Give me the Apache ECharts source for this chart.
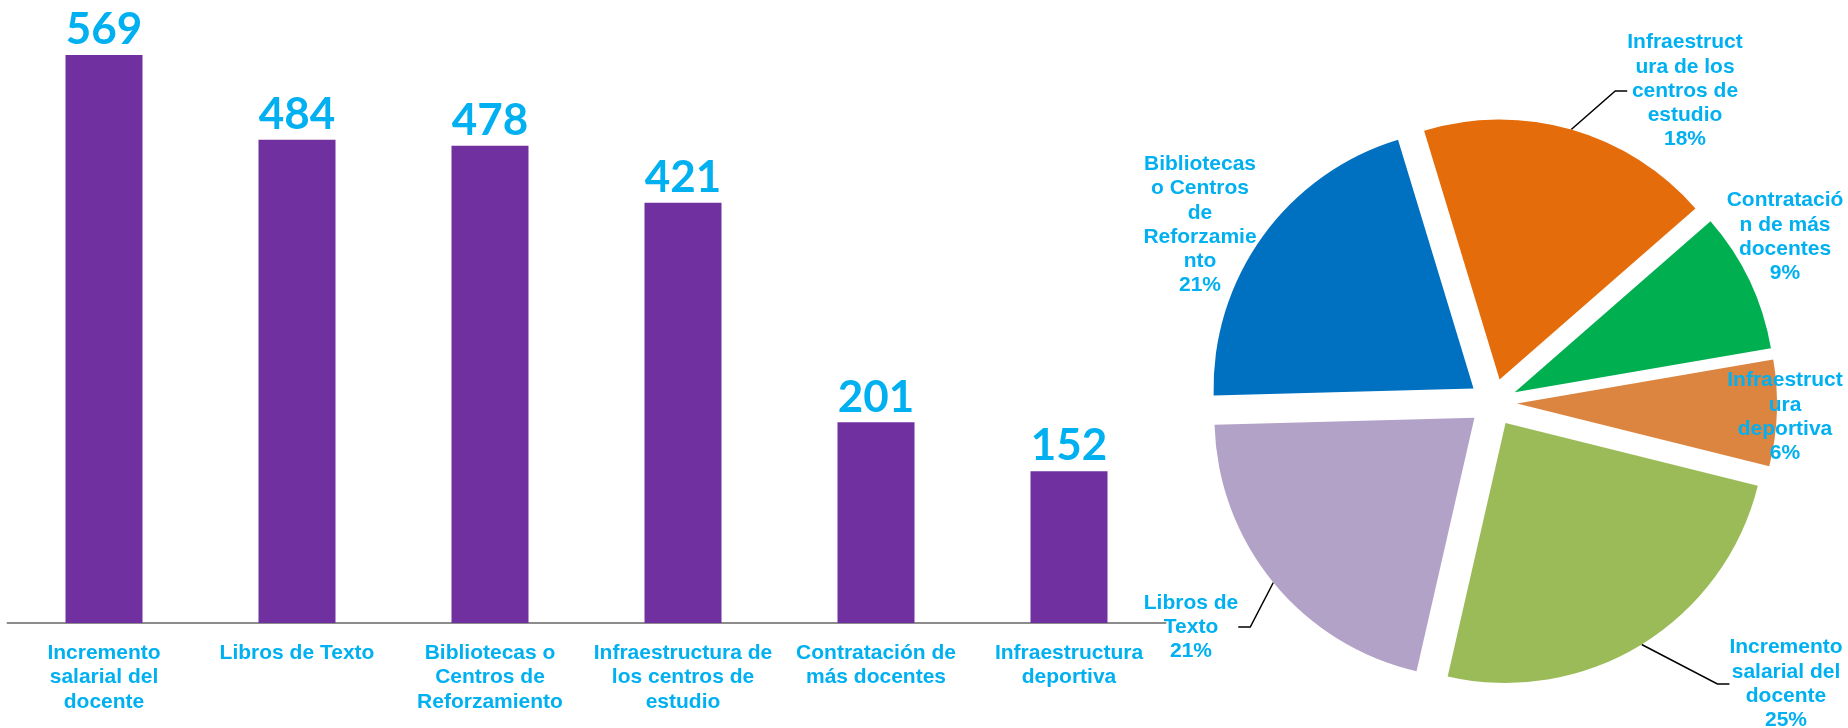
<!DOCTYPE html>
<html>
<head>
<meta charset="utf-8">
<script src="https://cdn.jsdelivr.net/npm/echarts@6/dist/echarts.min.js"></script>
<style>
  html, body { margin: 0; padding: 0; background: #fff; }
  #main { width: 1848px; height: 728px; }
</style>
</head>
<body>
<div id="main"></div>
<script>
  // datos
  var categorias = [
    'Incremento salarial del docente',
    'Libros de Texto',
    'Bibliotecas o Centros de Reforzamiento',
    'Infraestructura de los centros de estudio',
    'Contratación de más docentes',
    'Infraestructura deportiva'
  ];
  var votos = [569, 484, 478, 421, 201, 152];

  // cortes de linea como en el original
  var etiquetaBarra = {
    'Incremento salarial del docente': 'Incremento\nsalarial del\ndocente',
    'Libros de Texto': 'Libros de Texto',
    'Bibliotecas o Centros de Reforzamiento': 'Bibliotecas o\nCentros de\nReforzamiento',
    'Infraestructura de los centros de estudio': 'Infraestructura de\nlos centros de\nestudio',
    'Contratación de más docentes': 'Contratación de\nmás docentes',
    'Infraestructura deportiva': 'Infraestructura\ndeportiva'
  };
  var etiquetaPie = {
    'Incremento salarial del docente': 'Incremento\nsalarial del\ndocente',
    'Libros de Texto': 'Libros de\nTexto',
    'Bibliotecas o Centros de Reforzamiento': 'Bibliotecas\no Centros\nde\nReforzamie\nnto',
    'Infraestructura de los centros de estudio': 'Infraestruct\nura de los\ncentros de\nestudio',
    'Contratación de más docentes': 'Contratació\nn de más\ndocentes',
    'Infraestructura deportiva': 'Infraestruct\nura\ndeportiva'
  };

  var coloresPie = ['#9BBB59', '#B3A2C7', '#0070C0', '#E46C0A', '#00B050', '#DC8540'];
  var conGuia = [true, true, false, true, false, false];
  // centro de cada etiqueta del pastel
  var posEtiquetaPie = [[1786, 684], [1191, 627], [1200, 225], [1685, 91], [1785, 237], [1785, 417]];

  var azul = '#00B0F0';
  var letra = '"Liberation Sans", Arial, sans-serif';
  var centroPie = [1493, 402.5];
  var radioPie = 260;
  var inicio = -14;
  var separacion = 24;

  // cada porcion se dibuja como su propio pastel, desplazado segun su angulo medio
  var total = votos.reduce(function (a, b) { return a + b; }, 0);
  var seriesPie = [];
  var angulo = inicio;
  votos.forEach(function (v, i) {
    var arco = v / total * 360;
    var medio = (angulo - arco / 2) * Math.PI / 180;
    angulo -= arco;
    seriesPie.push({
      type: 'pie',
      silent: true,
      center: [centroPie[0] + separacion * Math.cos(medio), centroPie[1] - separacion * Math.sin(medio)],
      radius: radioPie,
      startAngle: inicio,
      clockwise: true,
      percentPrecision: 0,
      avoidLabelOverlap: false,
      emphasis: { disabled: true },
      data: categorias.map(function (c, j) {
        return {
          name: c,
          value: votos[j],
          itemStyle: { color: j === i ? coloresPie[i] : 'rgba(0,0,0,0)' },
          label: { show: j === i },
          labelLine: { show: j === i && conGuia[i] }
        };
      }),
      label: {
        color: azul,
        fontFamily: letra,
        fontWeight: 'bold',
        fontSize: 21,
        lineHeight: 24.2,
        align: 'center',
        formatter: function (p) { return etiquetaPie[p.name] + '\n' + p.percent + '%'; }
      },
      labelLine: { length: 12, length2: 12, lineStyle: { color: '#000', width: 1.5 } },
      labelLayout: function (p) {
        var pos = posEtiquetaPie[p.dataIndex];
        return { x: pos[0], y: pos[1], align: 'center', verticalAlign: 'middle' };
      }
    });
  });

  var chart = echarts.init(document.getElementById('main'));
  chart.setOption({
    animation: false,
    grid: { left: 7.5, top: 24, width: 1158, bottom: 105 },
    xAxis: {
      type: 'category',
      data: categorias,
      axisTick: { show: false },
      axisLine: { lineStyle: { color: '#8c8c8c', width: 2 } },
      axisLabel: {
        interval: 0,
        margin: 17.5,
        color: azul,
        fontFamily: letra,
        fontWeight: 'bold',
        fontSize: 21,
        lineHeight: 24.5,
        formatter: function (v) { return etiquetaBarra[v]; }
      }
    },
    yAxis: {
      type: 'value', min: 0, max: 600,
      show: false,
      splitLine: { show: false }
    },
    series: [
      {
        type: 'bar',
        data: votos,
        barWidth: 77,
        itemStyle: { color: '#7030A0' },
        label: {
          show: true,
          position: 'top',
          distance: 3,
          color: azul,
          fontFamily: 'Lato, "Open Sans", sans-serif',
          fontWeight: 'bold',
          fontSize: 44
        }
      }
    ].concat(seriesPie)
  });
</script>
</body>
</html>
